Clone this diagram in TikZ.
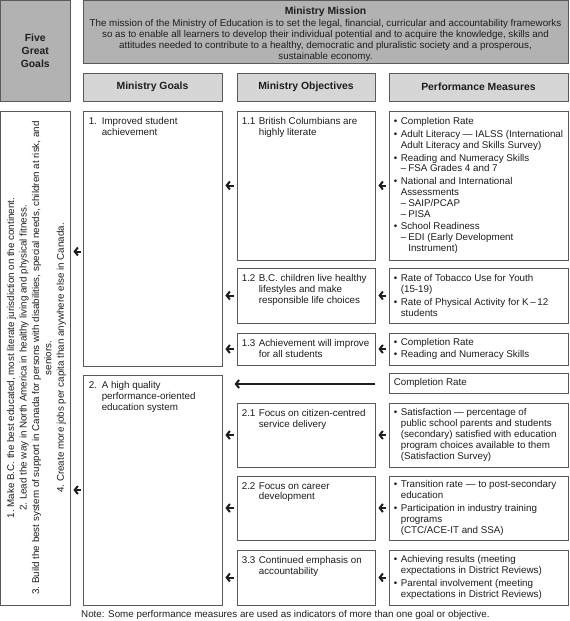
\documentclass[tikz,border=0pt]{standalone}
\usepackage{fontspec}
\setmainfont{Liberation Sans}
\usetikzlibrary{arrows.meta,fit,calc}
\definecolor{bordergray}{HTML}{5A5A5A}
\definecolor{darkfill}{HTML}{B2B2B2}
\definecolor{lightfill}{HTML}{D6D6D6}
\definecolor{ink}{HTML}{1E1E1E}
\newcommand\bul{\makebox[7pt][l]{\textbullet}}
\newcommand\ind{\hspace*{7pt}}
\newcommand\subi{\makebox[7.5pt][l]{–}}
\newcommand\numlab[2]{\makebox[#1][l]{#2}}
\begin{document}
\begin{tikzpicture}[x=1pt,y=-1pt,
  every node/.style={text=ink},
  frame/.style={draw=bordergray, line width=0.8pt, inner sep=0pt},
  darkbox/.style={frame, fill=darkfill},
  headbox/.style={frame, fill=lightfill},
  wbox/.style={frame, fill=white},
  body/.style={font=\fontsize{9.8}{10.8}\selectfont, inner sep=0pt, align=left},
  headfont/.style={font=\fontsize{10.4}{12.6}\selectfont\bfseries, inner sep=0pt, align=center},
  arr/.style={draw=ink, line width=2pt, -{Straight Barb[length=3.2pt,width=8pt]}},
]
\useasboundingbox (0,0) rectangle (570,621);

% top row
\node[darkbox, fit={(0.5,0.5) (70,101)}] (fgg) {};
\node[headfont] (fggtext) at (fgg.center) {Five\\Great\\Goals};
\node[darkbox, fit={(83,0.5) (568,63)}] (mission) {};
\node[body, align=center, font=\fontsize{9.8}{10.9}\selectfont] (missiontext) at (325.5,34.3)
 {{\bfseries\fontsize{10.4}{11}\selectfont Ministry Mission}\\[0.6pt]
  The mission of the Ministry of Education is to set the legal, financial, curricular and accountability frameworks\\
  so as to enable all learners to develop their individual potential and to acquire the knowledge, skills and\\
  attitudes needed to contribute to a healthy, democratic and pluralistic society and a prosperous,\\
  sustainable economy.};

% headers
\node[headbox, fit={(83,73) (222,101)}] (hgoals) {};
\node[headfont] (hgoalstext) at (hgoals.center) {Ministry Goals};
\node[headbox, fit={(237,73) (375,101)}] (hobj) {};
\node[headfont] (hobjtext) at (hobj.center) {Ministry Objectives};
\node[headbox, fit={(389,73) (568,101)}] (hmeas) {};
\node[headfont] (hmeastext) at (hmeas.center) {Performance Measures};

% five great goals column
\node[wbox, fit={(0.5,111) (70,605)}] (lbox) {};
\node[body, align=center, rotate=90, font=\fontsize{9.8}{12.4}\selectfont] (lboxtext) at (36.5,358)
 {1.\ Make B.C. the best educated, most literate jurisdiction on the continent.\\
  2.\ Lead the way in North America in healthy living and physical fitness.\\
  3.\ Build the best system of support in Canada for persons with disabilities, special needs, children at risk, and\\
  seniors.\\
  4.\ Create more jobs per capita than anywhere else in Canada.};

% goals
\node[wbox, fit={(83,111) (222,366)}] (g1) {};
\node[body, anchor=north west] (g1text) at ($(g1.north west)+(6,6.5)$)
 {\numlab{13pt}{1.}Improved student\\\hspace*{13pt}achievement};
\node[wbox, fit={(83,375) (222,605)}] (g2) {};
\node[body, anchor=north west] (g2text) at ($(g2.north west)+(6,6.5)$)
 {\numlab{13pt}{2.}A high quality\\\hspace*{13pt}performance-oriented\\\hspace*{13pt}education system};

% objectives
\node[wbox, fit={(237,111) (375,260)}] (o11) {};
\node[body, anchor=north west] (o11text) at ($(o11.north west)+(5,6.5)$)
 {\numlab{17pt}{1.1}British Columbians are\\\hspace*{17pt}highly literate};
\node[wbox, fit={(237,268) (375,323)}] (o12) {};
\node[body, anchor=north west] (o12text) at ($(o12.north west)+(5,6.5)$)
 {\numlab{17pt}{1.2}B.C. children live healthy\\\hspace*{17pt}lifestyles and make\\\hspace*{17pt}responsible life choices};
\node[wbox, fit={(237,333) (375,365)}] (o13) {};
\node[body, anchor=north west] (o13text) at ($(o13.north west)+(5,6.5)$)
 {\numlab{17pt}{1.3}Achievement will improve\\\hspace*{17pt}for all students};
\node[wbox, fit={(237,403) (375,467)}] (o21) {};
\node[body, anchor=north west] (o21text) at ($(o21.north west)+(5,6.5)$)
 {\numlab{17pt}{2.1}Focus on citizen-centred\\\hspace*{17pt}service delivery};
\node[wbox, fit={(237,476) (375,540)}] (o22) {};
\node[body, anchor=north west] (o22text) at ($(o22.north west)+(5,6.5)$)
 {\numlab{17pt}{2.2}Focus on career\\\hspace*{17pt}development};
\node[wbox, fit={(237,550) (375,605)}] (o33) {};
\node[body, anchor=north west] (o33text) at ($(o33.north west)+(5,6.5)$)
 {\numlab{17pt}{3.3}Continued emphasis on\\\hspace*{17pt}accountability};

% measures
\node[wbox, fit={(389,111) (568,260)}] (m11) {};
\node[body, anchor=west] (m11text) at ($(m11.west)+(5,0)$)
 {\bul Completion Rate\\[2pt]
  \bul Adult Literacy — IALSS (International\\
  \ind Adult Literacy and Skills Survey)\\[2pt]
  \bul Reading and Numeracy Skills\\
  \ind\subi FSA Grades 4 and 7\\[2pt]
  \bul National and International\\
  \ind Assessments\\
  \ind\subi SAIP/PCAP\\
  \ind\subi PISA\\[2pt]
  \bul School Readiness\\
  \ind\subi EDI (Early Development\\
  \ind\hspace*{7.5pt}Instrument)};
\node[wbox, fit={(389,268) (568,323)}] (m12) {};
\node[body, anchor=west] (m12text) at ($(m12.west)+(5,0)$)
 {\bul Rate of Tobacco Use for Youth\\
  \ind (15-19)\\[2pt]
  \bul Rate of Physical Activity for K\thinspace–\thinspace12\\
  \ind students};
\node[wbox, fit={(389,333) (568,365)}] (m13) {};
\node[body, anchor=west] (m13text) at ($(m13.west)+(5,0)$)
 {\bul Completion Rate\\[1pt]
  \bul Reading and Numeracy Skills};
\node[wbox, fit={(389,373) (568,393)}] (cr) {};
\node[body, anchor=west] (crtext) at ($(cr.west)+(5,0)$) {Completion Rate};
\node[wbox, fit={(389,403) (568,467)}] (m21) {};
\node[body, anchor=west] (m21text) at ($(m21.west)+(5,0)$)
 {\bul Satisfaction — percentage of\\
  \ind public school parents and students\\
  \ind (secondary) satisfied with education\\
  \ind program choices available to them\\
  \ind (Satisfaction Survey)};
\node[wbox, fit={(389,476) (568,540)}] (m22) {};
\node[body, anchor=west] (m22text) at ($(m22.west)+(5,0)$)
 {\bul Transition rate — to post-secondary\\
  \ind education\\[2pt]
  \bul Participation in industry training\\
  \ind programs\\
  \ind (CTC/ACE-IT and SSA)};
\node[wbox, fit={(389,550) (568,605)}] (m33) {};
\node[body, anchor=west] (m33text) at ($(m33.west)+(5,0)$)
 {\bul Achieving results (meeting\\
  \ind expectations in District Reviews)\\[2pt]
  \bul Parental involvement (meeting\\
  \ind expectations in District Reviews)};

% note
\node[body, anchor=west] (note) at (81,615)
 {Note: Some performance measures are used as indicators of more than one goal or objective.};

% arrows: goals -> five great goals
\draw[arr] ($(g1.west)+(-2,13)$) -- ($(lbox.east |- g1.west)+(3,13)$);
\draw[arr] ($(g2.west)+(-2,0)$) -- ($(lbox.east |- g2.west)+(3,0)$);
% objectives -> goals
\foreach \o/\g in {o11/g1,o12/g1,o13/g1,o21/g2,o22/g2,o33/g2}{
  \draw[arr] ($(\o.west)+(-3,0)$) -- ($(\g.east |- \o.west)+(3,0)$);
}
% measures -> objectives
\foreach \m/\o in {m11/o11,m12/o12,m13/o13,m21/o21,m22/o22,m33/o33}{
  \draw[arr] ($(\m.west)+(-3,0)$) -- ($(\o.east |- \m.west)+(3,0)$);
}
% completion rate -> goal 2
\draw[arr] ($(o13.east |- cr.west)+(0,1)$) -- ($(o13.west |- cr.west)+(-2,1)$);
\end{tikzpicture}
\end{document}
